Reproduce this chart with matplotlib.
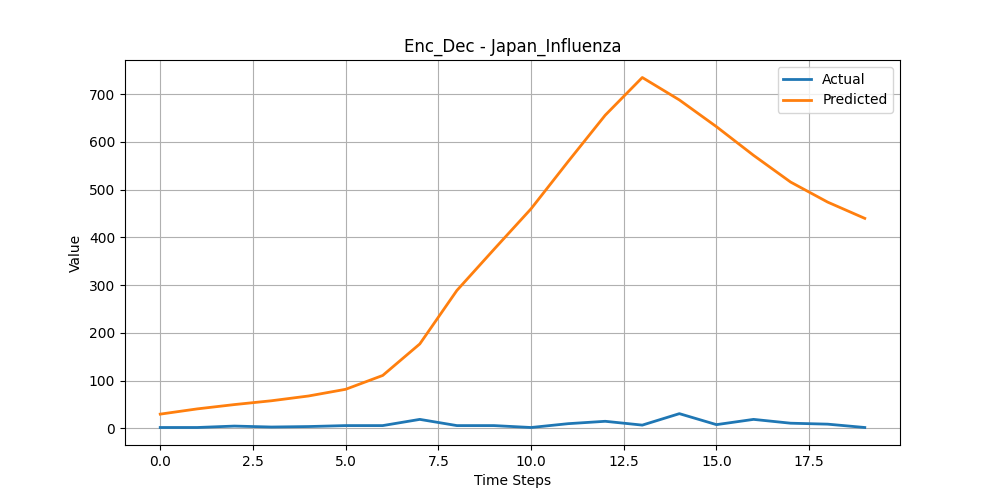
import matplotlib
matplotlib.use("Agg")
import matplotlib.pyplot as plt
import numpy as np

time_steps = list(range(20))
actual = [2, 2, 5, 3, 4, 6, 6, 19, 6, 6, 2, 10, 15, 7, 31, 8, 19, 11, 9, 2]
predicted = [30, 41, 50, 58, 68, 82, 111, 177, 289, 375, 460, 559, 656, 735,
             688, 632, 572, 516, 474, 440]

fig, ax = plt.subplots(figsize=(10, 5), dpi=100)
ax.plot(time_steps, actual, label="Actual", linewidth=2)
ax.plot(time_steps, predicted, label="Predicted", linewidth=2)
ax.set_title("Enc_Dec - Japan_Influenza")
ax.set_xlabel("Time Steps")
ax.set_ylabel("Value")
ax.legend()
ax.grid(True)
fig.savefig("out.png")
